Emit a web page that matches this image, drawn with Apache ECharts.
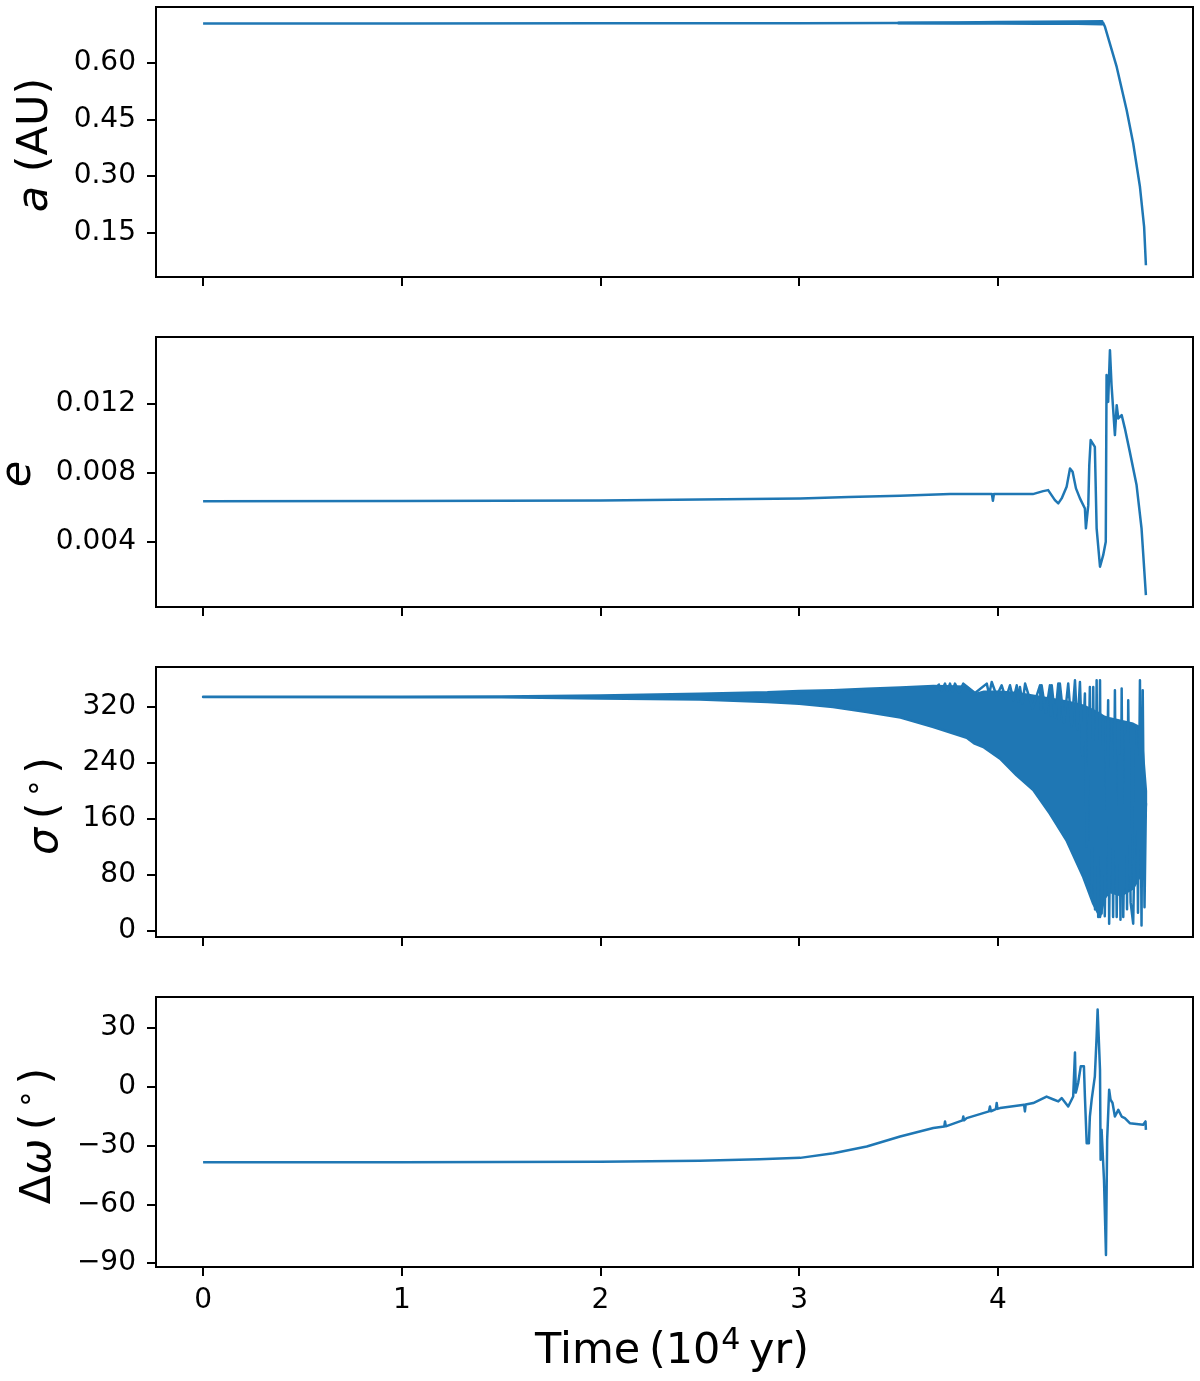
<!DOCTYPE html>
<html><head><meta charset="utf-8">
<script src="https://cdn.jsdelivr.net/npm/echarts@6/dist/echarts.min.js"></script>
<style>html,body{margin:0;padding:0;background:#fff}#c{width:1200px;height:1381px}</style>
</head><body><div id="c"></div>
<script>
// ---- tick values ----
const timeTicks = [0, 1, 2, 3, 4];
const aTicks = [0.15, 0.30, 0.45, 0.60];
const eTicks = [0.004, 0.008, 0.012];
const sigmaTicks = [0, 80, 160, 240, 320];
const dwTicks = [-90, -60, -30, 0, 30];

// ---- a (AU) ----
const aT = [0, 1.0, 2.0, 3.0, 3.5, 4.0, 4.529, 4.539, 4.598, 4.648, 4.681, 4.715, 4.736, 4.745];
const aV = [0.7040, 0.7040, 0.7042, 0.7046, 0.7050, 0.7055, 0.7060, 0.695, 0.589, 0.475, 0.387, 0.272, 0.166, 0.0645];
const aBandT = [3.5, 3.8, 4.0, 4.2, 4.4, 4.525];
const aBandU = [0.7055, 0.7067, 0.7075, 0.7082, 0.7090, 0.7100];
const aBandL = [0.7045, 0.7037, 0.7035, 0.7032, 0.7030, 0.7020];

// ---- e ----
const eT = [0, 1.0, 2.0, 2.5, 3.005, 3.25, 3.508, 3.76, 3.97, 3.975, 3.98, 4.176, 4.228, 4.253, 4.287, 4.304, 4.321, 4.346, 4.363, 4.376, 4.393, 4.413, 4.438, 4.443, 4.455, 4.460, 4.467, 4.488, 4.497, 4.514, 4.530, 4.543, 4.547, 4.555, 4.564, 4.572, 4.589, 4.598, 4.606, 4.623, 4.639, 4.664, 4.698, 4.723, 4.745];
const eV = [0.00636, 0.00637, 0.00640, 0.00645, 0.00652, 0.00660, 0.00667, 0.00677, 0.00677, 0.00638, 0.00677, 0.00677, 0.00694, 0.00700, 0.00642, 0.00623, 0.00652, 0.00719, 0.00825, 0.00806, 0.00710, 0.00652, 0.00594, 0.00479, 0.00613, 0.00845, 0.00989, 0.00950, 0.00479, 0.00257, 0.00324, 0.00401, 0.01365, 0.01210, 0.01509, 0.01307, 0.01018, 0.01191, 0.01114, 0.01134, 0.01057, 0.00921, 0.00729, 0.00479, 0.00093];

// ---- sigma (deg): dense oscillation envelope + resolved spikes ----
const sigmaBandT = [0, 1.0, 1.5, 2.0, 2.5, 2.84, 3.0, 3.17, 3.34, 3.51, 3.675, 3.843, 3.88, 3.93, 4.011, 4.094, 4.178, 4.262, 4.345, 4.43, 4.48, 4.514, 4.535, 4.56, 4.62, 4.68, 4.72, 4.745];
const sigmaBandU = [334.5, 334.6, 335, 336.5, 339, 341, 343, 344, 346, 348, 350, 349, 338, 342, 342, 340, 336, 332, 328, 322, 315, 310, 306, 304, 300, 296, 290, 200];
const sigmaBandL = [334.2, 334.1, 333.8, 332, 330.6, 327.2, 324.5, 320, 312.8, 304.8, 291.3, 276, 268, 262, 246, 222, 201, 167, 129, 76, 38, 19, 45, 55, 50, 60, 80, 180];
const sigmaSpikeT = [3.700, 3.717, 3.734, 3.746, 3.759, 3.771, 3.784, 3.805, 3.826, 3.885, 3.944, 3.956, 3.969, 3.994, 4.019, 4.040, 4.061, 4.078, 4.095, 4.103, 4.111, 4.124, 4.137, 4.175, 4.212, 4.216, 4.220, 4.241, 4.262, 4.266, 4.271, 4.288, 4.304, 4.308, 4.312, 4.333, 4.354, 4.371, 4.388, 4.400, 4.413, 4.425, 4.438, 4.447, 4.463, 4.472, 4.480, 4.489, 4.497, 4.505, 4.514, 4.522, 4.530, 4.538, 4.555, 4.560, 4.572, 4.580, 4.589, 4.598, 4.610, 4.617, 4.623, 4.631, 4.645, 4.650, 4.656, 4.668, 4.681, 4.698, 4.705, 4.715, 4.723, 4.729, 4.738, 4.745];
const sigmaSpikeV = [353.5, 343, 353.5, 343, 353.5, 342, 353.5, 341, 353.5, 340, 353.5, 338, 355.8, 336, 351.1, 332, 351.1, 330, 351.1, 328, 348.7, 325, 353.5, 318, 351.1, 316, 351.1, 312, 351.1, 308, 351.1, 305, 353.5, 303, 353.5, 298, 353.5, 292, 358.3, 288, 355.8, 250, 339.2, 120, 348.7, 55, 348.7, 30, 358.3, 19, 358.3, 24, 300, 20, 329.6, 9.5, 300, 19, 343.9, 19, 250, 15, 346.4, 19, 280, 30, 329.6, 40, 9.5, 290, 25, 358.3, 7, 343.9, 33, 182];

// ---- delta omega (deg) ----
const dwT = [0, 1.0, 2.0, 2.5, 2.8, 3.005, 3.172, 3.340, 3.508, 3.675, 3.730, 3.734, 3.738, 3.822, 3.826, 3.830, 3.843, 3.955, 3.960, 3.965, 3.990, 3.994, 3.998, 4.011, 4.132, 4.136, 4.140, 4.178, 4.245, 4.28, 4.304, 4.321, 4.354, 4.379, 4.388, 4.392, 4.396, 4.404, 4.417, 4.433, 4.438, 4.447, 4.458, 4.463, 4.472, 4.488, 4.497, 4.502, 4.509, 4.514, 4.517, 4.522, 4.534, 4.544, 4.550, 4.560, 4.567, 4.577, 4.589, 4.606, 4.623, 4.639, 4.664, 4.731, 4.743, 4.745];
const dwV = [-38.5, -38.5, -38.3, -37.8, -37.0, -36.3, -33.9, -30.5, -25.4, -21.1, -20.3, -17.7, -20.2, -17.2, -15.2, -17.1, -16.0, -12.6, -10.1, -12.5, -11.4, -8.3, -11.3, -10.9, -9.2, -12.6, -9.1, -8.3, -5.0, -6.5, -7.5, -5.8, -10.1, -5.0, 17.5, -3.0, -1.5, 1.9, 10.4, 10.4, -5.0, -28.8, -28.8, -15.2, -6.6, 5.3, 25.7, 39.4, 39.4, 8.7, -37.3, -22.0, -47.5, -85.9, -27.1, -1.5, -6.6, -8.3, -15.2, -11.8, -15.2, -16.0, -18.6, -19.4, -17.7, -22.0];

const BLUE = '#1f77b4';
const FONT = 'DejaVu Sans';
const LW = 2.5;
const zip = (T, V) => T.map((t, i) => [t, V[i]]);

function bandRender(T, U, L) {
  return function (params, api) {
    if (params.dataIndex !== 0) return;
    const pts = [];
    for (let i = 0; i < T.length; i++) pts.push(api.coord([T[i], U[i]]));
    for (let i = T.length - 1; i >= 0; i--) pts.push(api.coord([T[i], L[i]]));
    return { type: 'polygon', shape: { points: pts },
      style: { fill: BLUE, stroke: BLUE, lineWidth: LW, lineJoin: 'round' } };
  };
}

const tops = [7, 337, 667, 997];
const grids = tops.map(t => ({ left: 156, top: t, width: 1037, height: 270,
  show: true, borderColor: '#000', borderWidth: 2, containLabel: false }));

const xAxes = tops.map((t, i) => ({
  type: 'value', gridIndex: i, min: -0.237, max: 4.982,
  splitLine: { show: false }, axisLine: { show: false, onZero: false },
  axisTick: { show: true, customValues: timeTicks, length: 9, lineStyle: { color: '#000', width: 2 } },
  axisLabel: { show: i === 3, customValues: timeTicks, fontSize: 28, fontFamily: FONT, color: '#000', margin: 20,
    formatter: v => String(v) }
}));

function yAx(i, min, max, ticks, fmt) {
  return { type: 'value', gridIndex: i, min: min, max: max,
    splitLine: { show: false }, axisLine: { show: false, onZero: false },
    axisTick: { show: true, customValues: ticks, length: 9, lineStyle: { color: '#000', width: 2 } },
    axisLabel: { customValues: ticks, formatter: fmt, fontSize: 28, fontFamily: FONT, color: '#000', margin: 20,
      padding: [7, 0, 0, 0] } };
}
const yAxes = [
  yAx(0, 0.0335, 0.7474, aTicks, v => v.toFixed(2)),
  yAx(1, 0.000243, 0.01585, eTicks, v => v.toFixed(3)),
  yAx(2, -9.6, 377.3, sigmaTicks, v => String(v)),
  yAx(3, -92.0, 45.8, dwTicks, v => v < 0 ? '\u2212' + Math.abs(v) : String(v))
];

const lineStyle = { color: BLUE, width: LW, join: 'round' };
function lineSeries(i, data) {
  return { type: 'line', xAxisIndex: i, yAxisIndex: i, data: data, symbol: 'none',
    lineStyle: lineStyle, itemStyle: { color: BLUE }, animation: false, z: 3 };
}
function bandSeries(i, T, U, L) {
  return { type: 'custom', xAxisIndex: i, yAxisIndex: i, data: [[T[0], U[0]]],
    renderItem: bandRender(T, U, L), animation: false, z: 2, silent: true };
}

const big = 43;
const rich = {
  n: { fontSize: big, fontFamily: FONT, fill: '#000' },
  i: { fontSize: big, fontFamily: FONT, fontStyle: 'italic', fill: '#000' },
  d: { fontSize: 30, fontFamily: FONT, fill: '#000', padding: [0, 5, 22, 5] },
  sup: { fontSize: 30, fontFamily: FONT, fill: '#000', padding: [0, 0, 22, 1] }
};
function lbl(x, y, text, rot) {
  return { type: 'text', x: x, y: y, rotation: rot ? Math.PI / 2 : 0, silent: true,
    style: { text: text, rich: rich, fontSize: big, fontFamily: FONT, fill: '#000',
      align: 'center', verticalAlign: 'middle' } };
}

const chart = echarts.init(document.getElementById('c'), null, { renderer: 'canvas' });
chart.setOption({
  animation: false,
  backgroundColor: '#fff',
  grid: grids,
  xAxis: xAxes,
  yAxis: yAxes,
  series: [
    bandSeries(0, aBandT, aBandU, aBandL),
    lineSeries(0, zip(aT, aV)),
    lineSeries(1, zip(eT, eV)),
    bandSeries(2, sigmaBandT, sigmaBandU, sigmaBandL),
    lineSeries(2, zip(sigmaSpikeT, sigmaSpikeV)),
    lineSeries(3, zip(dwT, dwV))
  ],
  graphic: [
    lbl(36, 145, '{i|a}{n| (AU)}', true),
    lbl(19, 474, '{i|e}', true),
    lbl(46, 806, '{i|σ}{n|\u2009(}{d|∘}{n|)}', true),
    lbl(38.5, 1136, '{n|Δ}{i|ω}{n|\u2009(}{d|∘}{n|)}', true),
    lbl(672, 1352, '{n|Time\u2009(10}{sup|4}{n|\u2009yr)}', false)
  ]
});
</script></body></html>
